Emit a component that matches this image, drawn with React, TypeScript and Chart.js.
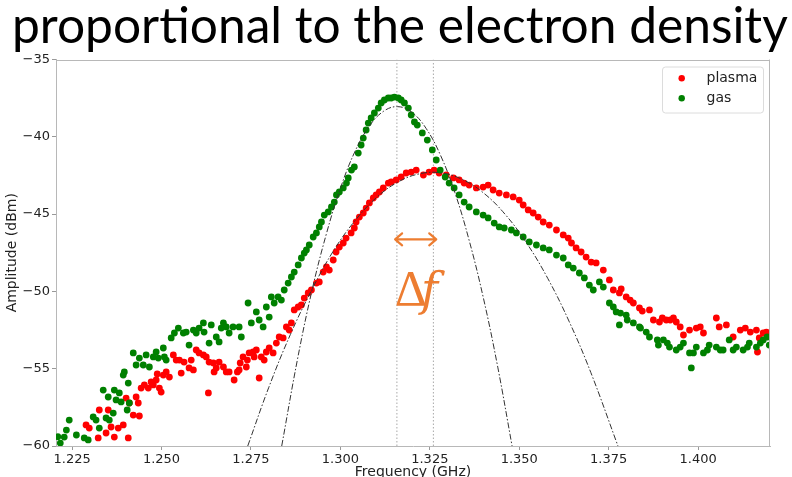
import { useEffect, useRef } from "react";
import { Chart, registerables } from "chart.js";

Chart.register(...registerables);

// ---------- data ----------
const titleText = "proportional to the electron density";
const xAxisTitle = "Frequency (GHz)";
const yAxisTitle = "Amplitude (dBm)";
const legendLabels = ["plasma", "gas"];

const xTicks = [1.225, 1.25, 1.275, 1.3, 1.325, 1.35, 1.375, 1.4];
const yTicks = [-60, -55, -50, -45, -40, -35];
const xRange = [1.2205, 1.4201];
const yRange = [-60, -35];

const markerFreqs = [1.3158, 1.326];
const arrowFreqs = [1.3153, 1.3268];
const arrowAmp = -46.63;
const deltaLabelFreq = 1.3152;
const deltaLabelAmp = -50.9;

const plasmaFreq = [
  1.2289, 1.2298, 1.2323, 1.2326, 1.2345, 1.2351, 1.2359, 1.2368, 1.2379, 1.2393,
  1.2401, 1.2407, 1.241, 1.2421, 1.2429, 1.2435, 1.2438, 1.2443, 1.2452, 1.2463,
  1.2471, 1.2477, 1.2485, 1.2488, 1.2494, 1.2499, 1.2505, 1.2513, 1.2522, 1.2533,
  1.2541, 1.255, 1.2555, 1.2563, 1.2577, 1.2583, 1.2589, 1.2597, 1.2605, 1.2617,
  1.2625, 1.2631, 1.2633, 1.2645, 1.2647, 1.2653, 1.2661, 1.2673, 1.2681, 1.2689,
  1.2703, 1.2712, 1.2717, 1.272, 1.2728, 1.2737, 1.274, 1.2745, 1.2756, 1.2759,
  1.2765, 1.2773, 1.2779, 1.2787, 1.2793, 1.2801, 1.2812, 1.2821, 1.2829, 1.284,
  1.2849, 1.2857, 1.2863, 1.2871, 1.2882, 1.2891, 1.2899, 1.291, 1.2919, 1.2933,
  1.2941, 1.2952, 1.2961, 1.2969, 1.298, 1.2988, 1.2997, 1.3008, 1.3016, 1.303,
  1.3039, 1.3044, 1.3053, 1.3064, 1.3072, 1.3081, 1.3092, 1.31, 1.3109, 1.312,
  1.3134, 1.3142, 1.3156, 1.317, 1.3184, 1.3198, 1.3212, 1.3232, 1.3248, 1.3262,
  1.3276, 1.3296, 1.3316, 1.3332, 1.3346, 1.336, 1.338, 1.3399, 1.3413, 1.3427,
  1.3444, 1.3464, 1.3483, 1.35, 1.3511, 1.3525, 1.3539, 1.3553, 1.3567, 1.3584,
  1.3604, 1.3623, 1.3637, 1.3646, 1.3659, 1.3673, 1.3687, 1.3701, 1.3715, 1.3735,
  1.3752, 1.3763, 1.378, 1.3785, 1.3799, 1.381, 1.3819, 1.3836, 1.3844, 1.3864,
  1.3875, 1.3892, 1.39, 1.3911, 1.3922, 1.3931, 1.3939, 1.395, 1.3959, 1.3976,
  1.3995, 1.4006, 1.4015, 1.4051, 1.4059, 1.4079, 1.4098, 1.4118, 1.4132, 1.4146,
  1.4163, 1.4166, 1.4171, 1.4182, 1.4191,
];
const plasmaAmp = [
  -58.64, -58.84, -59.48, -57.67, -59.16, -57.67, -58.77, -59.42, -58.84, -58.64,
  -56.9, -59.48, -57.22, -58.0, -56.83, -57.22, -58.06, -56.25, -56.05, -56.25,
  -55.86, -56.05, -55.73, -55.34, -56.25, -56.51, -55.41, -55.21, -55.54, -54.11,
  -54.44, -54.44, -55.28, -54.57, -54.95, -54.44, -55.08, -53.79, -53.98, -54.11,
  -54.24, -56.57, -54.57, -54.63, -55.21, -54.95, -54.57, -54.89, -55.21, -55.21,
  -55.73, -55.21, -55.08, -54.63, -54.24, -54.89, -54.44, -53.98, -53.92, -54.24,
  -53.79, -55.6, -54.24, -54.44, -53.92, -53.66, -53.98, -53.34, -52.95, -53.01,
  -52.3, -52.5, -52.04, -51.2, -51.01, -50.88, -50.43, -50.1, -49.91, -49.46,
  -49.39, -48.75, -48.42, -48.62, -47.97, -47.45, -47.13, -46.87, -46.55, -46.22,
  -45.9, -45.51, -45.19, -44.93, -44.61, -44.28, -43.96, -43.76, -43.57, -43.31,
  -42.99, -42.92, -42.79, -42.6, -42.34, -42.28, -42.15, -42.47, -42.28, -42.15,
  -42.34, -42.47, -42.66, -42.79, -42.99, -43.12, -43.31, -43.25, -43.12, -43.44,
  -43.64, -43.76, -43.89, -44.09, -44.41, -44.73, -44.93, -45.19, -45.51, -45.71,
  -46.03, -46.35, -46.55, -46.87, -47.19, -47.45, -47.78, -48.1, -48.16, -48.62,
  -49.26, -49.91, -50.1, -49.84, -50.36, -50.56, -50.75, -51.07, -51.27, -51.2,
  -51.85, -51.98, -51.72, -51.85, -51.85, -51.72, -51.98, -52.3, -52.82, -52.5,
  -52.37, -52.3, -52.69, -51.72, -52.3, -52.17, -52.95, -52.5, -52.37, -52.63,
  -52.5, -53.92, -53.01, -52.69, -52.63,
];

const gasFreq = [
  1.221, 1.2217, 1.2228, 1.2234, 1.2242, 1.2262, 1.2284, 1.2295, 1.2309, 1.2317,
  1.2326, 1.2337, 1.2345, 1.2351, 1.2354, 1.2365, 1.2368, 1.2373, 1.2382, 1.2387,
  1.2393, 1.2396, 1.2404, 1.2407, 1.241, 1.2421, 1.2429, 1.2438, 1.2449, 1.2457,
  1.2466, 1.2477, 1.2485, 1.2491, 1.2505, 1.2508, 1.2513, 1.2527, 1.2536, 1.2547,
  1.2561, 1.2569, 1.2577, 1.2589, 1.2597, 1.2605, 1.2617, 1.2619, 1.2633, 1.2639,
  1.2653, 1.2661, 1.2667, 1.2673, 1.2681, 1.2689, 1.27, 1.2717, 1.2723, 1.2742,
  1.2751, 1.2765, 1.2773, 1.2784, 1.2793, 1.2801, 1.2807, 1.2815, 1.2826, 1.2835,
  1.2843, 1.2854, 1.2863, 1.2871, 1.2882, 1.2891, 1.2899, 1.2905, 1.2913, 1.2924,
  1.2933, 1.2941, 1.2947, 1.2955, 1.2966, 1.2975, 1.2983, 1.2989, 1.2997, 1.3008,
  1.3017, 1.3022, 1.3031, 1.3039, 1.305, 1.3058, 1.3064, 1.3072, 1.3078, 1.3086,
  1.3095, 1.3106, 1.3114, 1.3123, 1.3134, 1.3142, 1.3151, 1.3162, 1.317, 1.3179,
  1.319, 1.3198, 1.3207, 1.3215, 1.3229, 1.3243, 1.3257, 1.3268, 1.3279, 1.3293,
  1.3304, 1.3318, 1.3332, 1.3346, 1.336, 1.338, 1.3399, 1.3413, 1.343, 1.3444,
  1.3458, 1.3478, 1.3492, 1.3511, 1.3528, 1.3548, 1.3567, 1.3584, 1.3604, 1.3623,
  1.3637, 1.3651, 1.3668, 1.3682, 1.3696, 1.3707, 1.3724, 1.3735, 1.3752, 1.3763,
  1.3771, 1.378, 1.3783, 1.3799, 1.3802, 1.3819, 1.3836, 1.3839, 1.3855, 1.3864,
  1.3886, 1.3889, 1.3903, 1.3914, 1.392, 1.3939, 1.395, 1.3959, 1.3976, 1.3981,
  1.3987, 1.3995, 1.4015, 1.4026, 1.4031, 1.4051, 1.4062, 1.407, 1.4087, 1.4098,
  1.4107, 1.4126, 1.4138, 1.4143, 1.4163, 1.4174, 1.4182, 1.4193, 1.4199,
];
const gasAmp = [
  -59.4, -59.81, -59.42, -58.97, -58.32, -59.29, -59.48, -59.61, -58.12, -58.32,
  -58.84, -56.38, -58.19, -56.83, -58.32, -57.87, -56.38, -57.02, -56.57, -57.15,
  -55.41, -55.21, -57.67, -55.93, -57.22, -53.98, -54.76, -54.31, -54.76, -54.11,
  -54.89, -54.24, -53.92, -54.31, -53.66, -54.24, -54.44, -53.01, -52.69, -52.37,
  -52.69, -52.63, -53.47, -52.5, -52.69, -52.37, -52.04, -52.63, -53.34, -52.17,
  -52.95, -53.27, -52.37, -52.04, -52.3, -52.69, -52.3, -52.3, -52.95, -50.75,
  -52.04, -51.33, -51.85, -52.3, -51.01, -51.66, -50.36, -50.75, -50.36, -50.56,
  -49.91, -49.46, -49.07, -48.75, -48.29, -47.84, -47.52, -47.32, -47.0, -46.48,
  -46.22, -45.83, -45.51, -45.06, -44.86, -44.54, -44.22, -43.76, -43.57, -43.31,
  -42.99, -42.66, -42.15, -41.95, -41.05, -40.53, -40.08, -39.56, -39.11, -38.78,
  -38.46, -38.14, -37.81, -37.62, -37.49, -37.49, -37.43, -37.49, -37.62, -37.81,
  -38.14, -38.59, -39.04, -39.24, -39.75, -40.21, -40.85, -41.5, -42.15, -42.6,
  -42.99, -43.31, -43.76, -44.22, -44.54, -44.86, -45.06, -45.25, -45.58, -45.83,
  -45.9, -46.03, -46.22, -46.48, -46.8, -47.0, -47.19, -47.32, -47.65, -47.84,
  -48.29, -48.49, -48.81, -49.13, -49.59, -49.91, -49.39, -49.72, -50.75, -51.01,
  -51.33, -52.17, -51.4, -51.53, -51.85, -52.04, -52.3, -52.37, -52.63, -52.95,
  -53.14, -53.47, -53.14, -53.34, -53.6, -53.79, -53.6, -53.34, -53.98, -54.95,
  -53.98, -53.6, -53.98, -53.79, -53.47, -53.6, -53.79, -53.79, -53.14, -53.79,
  -53.6, -53.79, -53.6, -53.34, -53.6, -53.34, -53.14, -52.95, -53.47,
];

const gasFitFreq = [
  1.2836, 1.288, 1.292, 1.296, 1.3, 1.304, 1.308, 1.312, 1.316, 1.32, 1.324, 1.328,
  1.332, 1.336, 1.34, 1.344, 1.348,
];
const gasFitAmp = [
  -60, -54.4, -50.0, -46.35, -43.34, -40.99, -39.34, -38.36, -38.05, -38.42, -39.47,
  -41.2, -43.6, -46.7, -50.45, -54.9, -60,
];
const plasmaFitFreq = [
  1.2741, 1.28, 1.286, 1.292, 1.298, 1.304, 1.31, 1.316, 1.322, 1.328, 1.334, 1.34,
  1.346, 1.352, 1.358, 1.364, 1.37, 1.3776,
];
const plasmaFitAmp = [
  -60, -56.2, -52.8, -49.9, -47.4, -45.45, -43.95, -42.94, -42.4, -42.33, -42.75,
  -43.63, -45.0, -46.85, -49.17, -51.97, -55.24, -60,
];

// ---------- styles ----------
const RED = "#ff0000";
const GREEN = "#008000";
const ORANGE = "#ED7D31";
const SPINE = "#b8b8b8";
const TICKFONT = "DejaVu Sans";

const zip = (xs: number[], ys: number[]) => xs.map((x, i) => ({ x, y: ys[i] }));

const overlayPlugin = {
  id: "overlay",
  beforeDraw(chart: any) {
    const ctx = chart.ctx;
    ctx.save();
    ctx.fillStyle = "#ffffff";
    ctx.fillRect(0, 0, chart.width, chart.height);
    ctx.restore();
  },
  afterDraw(chart: any) {
    const ctx: CanvasRenderingContext2D = chart.ctx;
    const a = chart.chartArea;
    const xs = chart.scales.x;
    const ys = chart.scales.y;
    ctx.save();

    // top & right spines
    ctx.strokeStyle = SPINE;
    ctx.lineWidth = 1;
    ctx.beginPath();
    ctx.moveTo(a.left, Math.round(a.top) + 0.5);
    ctx.lineTo(a.right, Math.round(a.top) + 0.5);
    ctx.moveTo(Math.round(a.right) - 0.5, a.top);
    ctx.lineTo(Math.round(a.right) - 0.5, a.bottom);
    ctx.stroke();

    // big title, fitted to width
    ctx.fillStyle = "#000";
    ctx.textBaseline = "alphabetic";
    ctx.textAlign = "left";
    let size = 50;
    ctx.font = `${size}px Lato`;
    const w = ctx.measureText(titleText).width;
    size = (size * 776) / w;
    ctx.font = `${size}px Lato`;
    ctx.fillText(titleText, 12, 43);

    // axis titles
    ctx.fillStyle = "#222";
    ctx.font = `14px ${TICKFONT}`;
    ctx.textAlign = "center";
    ctx.textBaseline = "top";
    ctx.fillText(xAxisTitle, (a.left + a.right) / 2, 465);
    ctx.save();
    ctx.translate(12, (a.top + a.bottom) / 2);
    ctx.rotate(-Math.PI / 2);
    ctx.textBaseline = "middle";
    ctx.fillText(yAxisTitle, 0, 0);
    ctx.restore();

    // legend
    const lx = 662, ly = 66.5, lw = 101, lh = 46;
    ctx.beginPath();
    ctx.roundRect(lx + 0.5, ly + 0.5, lw, lh, 3);
    ctx.fillStyle = "rgba(255,255,255,0.85)";
    ctx.fill();
    ctx.strokeStyle = "#dcdcdc";
    ctx.stroke();
    const cols = [RED, GREEN];
    legendLabels.forEach((lab, i) => {
      const cy = 78.3 + i * 20;
      ctx.beginPath();
      ctx.arc(681.7, cy, 3.2, 0, Math.PI * 2);
      ctx.fillStyle = cols[i];
      ctx.fill();
      ctx.fillStyle = "#222";
      ctx.font = `14px ${TICKFONT}`;
      ctx.textAlign = "left";
      ctx.textBaseline = "middle";
      ctx.fillText(lab, 706.5, cy);
    });

    // orange double arrow
    const x0 = xs.getPixelForValue(arrowFreqs[0]);
    const x1 = xs.getPixelForValue(arrowFreqs[1]);
    const yA = ys.getPixelForValue(arrowAmp);
    ctx.strokeStyle = ORANGE;
    ctx.lineWidth = 2.2;
    ctx.lineCap = "round";
    ctx.lineJoin = "round";
    ctx.beginPath();
    ctx.moveTo(x0, yA);
    ctx.lineTo(x1, yA);
    ctx.moveTo(x0 + 7, yA - 6);
    ctx.lineTo(x0, yA);
    ctx.lineTo(x0 + 7, yA + 6);
    ctx.moveTo(x1 - 7, yA - 6);
    ctx.lineTo(x1, yA);
    ctx.lineTo(x1 - 7, yA + 6);
    ctx.stroke();

    // Δf label
    const dx = xs.getPixelForValue(deltaLabelFreq);
    const dy = ys.getPixelForValue(deltaLabelAmp);
    ctx.fillStyle = ORANGE;
    ctx.textAlign = "left";
    ctx.textBaseline = "alphabetic";
    ctx.font = `50px "Liberation Serif"`;
    ctx.fillText("Δ", dx, dy);
    const dw = ctx.measureText("Δ").width;
    ctx.font = `italic 46px "DejaVu Serif"`;
    ctx.fillText("f", dx + dw - 6, dy);

    ctx.restore();
  },
};

export default function App() {
  const ref = useRef<HTMLCanvasElement | null>(null);

  useEffect(() => {
    if (!ref.current) return;
    const markerSets = markerFreqs.map((m) => ({
      type: "line" as const,
      data: [
        { x: m, y: yRange[0] },
        { x: m, y: yRange[1] },
      ],
      showLine: true,
      borderColor: "#a8a8a8",
      borderWidth: 1,
      borderDash: [1.5, 2],
      pointRadius: 0,
      order: 5,
    }));
    const chart = new Chart(ref.current, {
      type: "scatter",
      data: {
        datasets: [
          {
            label: "plasma",
            data: zip(plasmaFreq, plasmaAmp),
            pointRadius: 3.4,
            pointBackgroundColor: RED,
            pointBorderWidth: 0,
            borderColor: RED,
            order: 3,
          },
          {
            label: "gas",
            data: zip(gasFreq, gasAmp),
            pointRadius: 3.4,
            pointBackgroundColor: GREEN,
            pointBorderWidth: 0,
            borderColor: GREEN,
            order: 2,
          },
          {
            label: "gas fit",
            data: zip(gasFitFreq, gasFitAmp),
            showLine: true,
            pointRadius: 0,
            borderColor: "#333",
            borderWidth: 1,
            borderDash: [6, 2, 1.5, 2],
            tension: 0.4,
            order: 1,
          },
          {
            label: "plasma fit",
            data: zip(plasmaFitFreq, plasmaFitAmp),
            showLine: true,
            pointRadius: 0,
            borderColor: "#333",
            borderWidth: 1,
            borderDash: [6, 2, 1.5, 2],
            tension: 0.4,
            order: 1,
          },
          ...markerSets,
        ] as any,
      },
      options: {
        animation: false,
        responsive: false,
        devicePixelRatio: 1,
        layout: { padding: { top: 59.5, right: 22, left: 0, bottom: 0 } },
        plugins: {
          legend: { display: false },
          tooltip: { enabled: false },
          title: { display: false },
        },
        scales: {
          x: {
            type: "linear",
            min: xRange[0],
            max: xRange[1],
            afterFit: (s: any) => {
              s.height = 31;
            },
            afterBuildTicks: (s: any) => {
              s.ticks = xTicks.map((value) => ({ value }));
            },
            grid: { drawOnChartArea: false, drawTicks: true, tickLength: 4, tickColor: "#999" },
            border: { display: true, color: SPINE },
            ticks: {
              autoSkip: false,
              maxRotation: 0,
              padding: 2,
              color: "#222",
              font: { family: TICKFONT, size: 13 },
              callback: (v: any) => Number(v).toFixed(3),
            },
          },
          y: {
            type: "linear",
            min: yRange[0],
            max: yRange[1],
            afterFit: (s: any) => {
              s.width = 56;
            },
            afterBuildTicks: (s: any) => {
              s.ticks = yTicks.map((value) => ({ value }));
            },
            grid: { drawOnChartArea: false, drawTicks: true, tickLength: 4, tickColor: "#999" },
            border: { display: true, color: SPINE },
            ticks: {
              padding: 2,
              color: "#222",
              font: { family: TICKFONT, size: 13 },
              callback: (v: any) => (Number(v) < 0 ? "\u2212" + Math.abs(Number(v)) : String(v)),
            },
          },
        },
      },
      plugins: [overlayPlugin],
    });
    return () => chart.destroy();
  }, []);

  return (
    <div style={{ position: "absolute", left: 0, top: 0, width: 792, height: 477, background: "#fff" }}>
      <canvas ref={ref} width={792} height={477} style={{ display: "block" }} />
    </div>
  );
}
